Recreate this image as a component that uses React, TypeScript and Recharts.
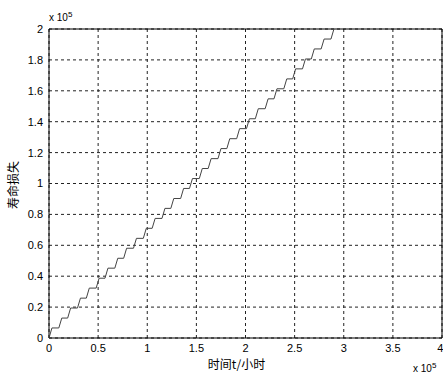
import React from 'react';
import {
  LineChart,
  Line,
  XAxis,
  YAxis,
  CartesianGrid,
  ReferenceArea,
} from 'recharts';

// time in 1e5 hours, life loss in 1e5 (staircase)
const hours = [
  0, 0.03, 0.1, 0.13, 0.19, 0.22, 0.29, 0.32, 0.38, 0.41, 0.48, 0.51,
  0.57, 0.6, 0.67, 0.7, 0.76, 0.79, 0.86, 0.89, 0.96, 0.99, 1.05, 1.08,
  1.15, 1.18, 1.24, 1.27, 1.34, 1.37, 1.43, 1.46, 1.53, 1.56, 1.62, 1.65,
  1.72, 1.75, 1.81, 1.84, 1.91, 1.94, 2.01, 2.04, 2.1, 2.13, 2.2, 2.23,
  2.29, 2.32, 2.39, 2.42, 2.48, 2.51, 2.58, 2.61, 2.67, 2.7, 2.77, 2.8,
  2.87, 2.9,
];
const loss = [
  0, 0.065, 0.065, 0.129, 0.129, 0.194, 0.194, 0.258, 0.258, 0.323, 0.323, 0.387,
  0.387, 0.452, 0.452, 0.516, 0.516, 0.581, 0.581, 0.645, 0.645, 0.71, 0.71, 0.774,
  0.774, 0.839, 0.839, 0.903, 0.903, 0.968, 0.968, 1.032, 1.032, 1.097, 1.097, 1.161,
  1.161, 1.226, 1.226, 1.29, 1.29, 1.355, 1.355, 1.419, 1.419, 1.484, 1.484, 1.548,
  1.548, 1.613, 1.613, 1.677, 1.677, 1.742, 1.742, 1.806, 1.806, 1.871, 1.871, 1.935,
  1.935, 2.0,
];
const xTicks = [0, 0.5, 1, 1.5, 2, 2.5, 3, 3.5, 4];
const yTicks = [0, 0.2, 0.4, 0.6, 0.8, 1, 1.2, 1.4, 1.6, 1.8, 2];

const data = hours.map((h, i) => ({ h, loss: loss[i] }));

const font = '"Liberation Sans", Arial, sans-serif';
const cjk = '"Noto Sans CJK SC", sans-serif';
const tickStyle = { fill: '#000', fontSize: 11, fontFamily: font };

export default function App() {
  return (
    <div style={{ position: 'absolute', left: 0, top: 0, width: 443, height: 375, background: '#fff' }}>
      <LineChart
        width={443}
        height={375}
        data={data}
        margin={{ top: 29, right: 1, left: 0, bottom: 0 }}
      >
        <CartesianGrid stroke="#222" strokeDasharray="3 3" strokeWidth={1} />
        <XAxis
          dataKey="h"
          type="number"
          domain={[0, 4]}
          ticks={xTicks}
          allowDataOverflow
          axisLine={false}
          tickLine={false}
          tick={tickStyle}
          height={37}
          dy={-2}
        />
        <YAxis
          type="number"
          domain={[0, 2]}
          ticks={yTicks}
          allowDataOverflow
          axisLine={false}
          tickLine={false}
          tick={tickStyle}
          width={49}
          dx={2}
        />
        <ReferenceArea x1={0} x2={4} y1={0} y2={2} fill="none" stroke="#000" strokeWidth={1} ifOverflow="visible" />
        <Line
          dataKey="loss"
          type="linear"
          stroke="#444"
          strokeWidth={1}
          dot={false}
          isAnimationActive={false}
        />
      </LineChart>
      <div style={{ position: 'absolute', left: 49, top: 10, fontFamily: font, fontSize: 10, color: '#000' }}>
        x 10<sup style={{ fontSize: 8 }}>5</sup>
      </div>
      <div style={{ position: 'absolute', left: 413, top: 361, fontFamily: font, fontSize: 10, color: '#000' }}>
        x 10<sup style={{ fontSize: 8 }}>5</sup>
      </div>
      <div style={{ position: 'absolute', left: 0, width: 443, top: 355, textAlign: 'center', paddingLeft: 30, boxSizing: 'border-box', fontFamily: cjk, fontSize: 12, color: '#000' }}>
        时间t/小时
      </div>
      <div
        style={{
          position: 'absolute',
          left: 12,
          top: 185,
          transform: 'translate(-50%, -50%) rotate(-90deg)',
          fontFamily: cjk,
          fontSize: 12,
          color: '#000',
          whiteSpace: 'nowrap',
        }}
      >
        寿命损失
      </div>
    </div>
  );
}
